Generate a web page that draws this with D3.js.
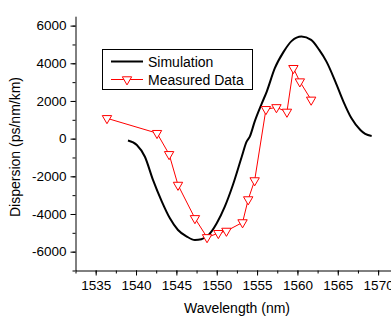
<!DOCTYPE html>
<html>
<head>
<meta charset="utf-8">
<script src="https://cdn.jsdelivr.net/npm/d3@7"></script>
<style>
body{margin:0;background:#fff;}
svg{display:block;font-family:"Liberation Sans",Arial,sans-serif;}
</style>
</head>
<body>
<div id="chart"></div>
<script>
var width=391, height=320;

// simulation curve (wavelength nm, dispersion ps/nm/km)
var simWl=[1539.0,1540.1,1541.1,1542.1,1543.2,1544.2,1545.2,1546.3,1547.3,1548.1,1549.0,1550.0,1551.0,1552.0,1553.1,1553.7,1554.1,1554.7,1555.6,1556.2,1557.2,1558.3,1559.3,1560.5,1561.7,1562.7,1563.6,1564.7,1565.7,1566.7,1567.8,1568.4,1569.2];
var simD=[-100,-340,-960,-2190,-3340,-4230,-4850,-5200,-5380,-5340,-5110,-4490,-3610,-2460,-960,-160,110,900,1880,2500,3740,4620,5190,5420,5240,4710,4090,3030,1970,1080,460,250,140];

// measured data
var measWl=[1536.4,1542.6,1544.1,1545.2,1547.3,1548.8,1550.2,1551.2,1553.2,1553.9,1554.7,1556.1,1557.4,1558.7,1559.5,1560.3,1561.7];
var measD=[1080,290,-830,-2460,-4230,-5240,-5020,-4900,-4450,-3230,-2220,1560,1660,1420,3740,3030,2060];

var xTicks=[1535,1540,1545,1550,1555,1560,1565,1570];
var yTicks=[-6000,-4000,-2000,0,2000,4000,6000];

var svg=d3.select('#chart').append('svg')
    .attr('width', width)
    .attr('height', height);

var x=d3.scaleLinear().domain([1532.5,1572.5]).range([75.5,398.3]);
var y=d3.scaleLinear().domain([-7000,6500]).range([270.5,16.2]);

// minor ticks
svg.append('g')
    .attr('transform','translate(0,270.5)')
    .call(d3.axisBottom(x).tickValues(d3.range(1532.5,1572.6,2.5)).tickSize(3).tickFormat(''))
    .call(function(g){g.select('.domain').remove();});
svg.append('g')
    .attr('transform','translate(75.5,0)')
    .call(d3.axisLeft(y).tickValues(d3.range(-7000,6001,1000)).tickSize(3).tickFormat(''))
    .call(function(g){g.select('.domain').remove();});

var xAxis=svg.append('g')
    .attr('transform','translate(0,270.5)')
    .call(d3.axisBottom(x).tickValues(xTicks).tickSize(5).tickSizeOuter(0).tickPadding(5).tickFormat(d3.format('d')));
var yAxis=svg.append('g')
    .attr('transform','translate(75.5,0)')
    .call(d3.axisLeft(y).tickValues(yTicks).tickSize(5).tickSizeOuter(0).tickPadding(4).tickFormat(function(d){return d<0?'-'+Math.abs(d):d;}));

svg.selectAll('.tick text').attr('font-size',13.5).attr('fill','#000')
    .style('font-family','"Liberation Sans",Arial,sans-serif');

svg.append('text')
    .attr('x',237).attr('y',313)
    .attr('text-anchor','middle')
    .attr('font-size',14)
    .text('Wavelength (nm)');
svg.append('text')
    .attr('transform','translate(20,147) rotate(-90)')
    .attr('text-anchor','middle')
    .attr('font-size',14)
    .text('Dispersion (ps/nm/km)');

var sim=simWl.map(function(d,i){return [d,simD[i]];});
var meas=measWl.map(function(d,i){return [d,measD[i]];});

svg.append('path')
    .attr('d', d3.line().x(function(d){return x(d[0]);}).y(function(d){return y(d[1]);}).curve(d3.curveMonotoneX)(sim))
    .attr('fill','none').attr('stroke','#000').attr('stroke-width',2);

svg.append('path')
    .attr('d', d3.line().x(function(d){return x(d[0]);}).y(function(d){return y(d[1]);})(meas))
    .attr('fill','none').attr('stroke','#ff0000').attr('stroke-width',1);

var tri=d3.symbol().type(d3.symbolTriangle).size(38);
svg.selectAll('.mk').data(meas).enter().append('path')
    .attr('class','mk')
    .attr('d',tri)
    .attr('transform',function(d){return 'translate('+x(d[0])+','+y(d[1])+') rotate(180)';})
    .attr('fill','#fff').attr('stroke','#ff0000').attr('stroke-width',1);

// legend
var lg=svg.append('g');
lg.append('rect').attr('x',102.5).attr('y',49.5).attr('width',150).attr('height',40)
    .attr('fill','#fff').attr('stroke','#000').attr('stroke-width',1);
lg.append('line').attr('x1',111).attr('x2',143).attr('y1',61.5).attr('y2',61.5)
    .attr('stroke','#000').attr('stroke-width',2);
lg.append('line').attr('x1',111).attr('x2',143).attr('y1',79.5).attr('y2',79.5)
    .attr('stroke','#ff0000').attr('stroke-width',1);
lg.append('path').attr('d',tri).attr('transform','translate(127,79.5) rotate(180)')
    .attr('fill','#fff').attr('stroke','#ff0000');
lg.append('text').attr('x',148).attr('y',66.5).attr('font-size',14).text('Simulation');
lg.append('text').attr('x',148).attr('y',84.5).attr('font-size',14).text('Measured Data');
</script>
</body>
</html>
